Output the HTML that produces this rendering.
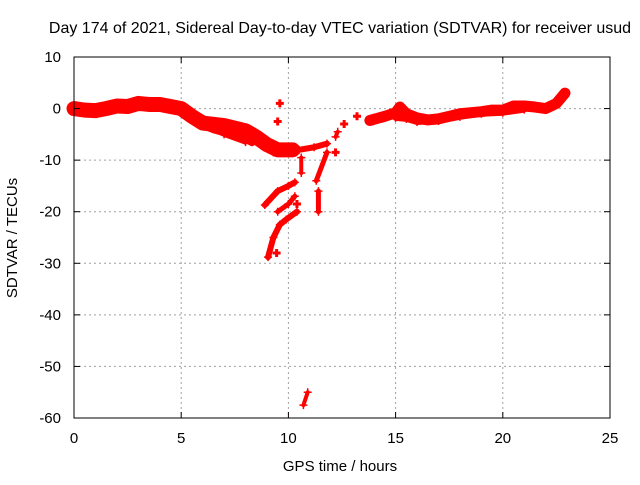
<!DOCTYPE html>
<html><head><meta charset="utf-8"><style>
body{margin:0;background:#fff;}
svg text{font-family:"Liberation Sans",sans-serif;font-size:15px;fill:#000;}
</style></head><body>
<svg width="640" height="480" id="chart">
<text x="340" y="33" text-anchor="middle" style="font-size:16px">Day 174 of 2021, Sidereal Day-to-day VTEC variation (SDTVAR) for receiver usud</text>
<text x="340" y="471" text-anchor="middle">GPS time / hours</text>
<text transform="translate(17,238) rotate(-90)" text-anchor="middle">SDTVAR / TECUs</text>
<g id="grid"></g><g id="marks"></g><g id="axes"></g>
</svg>
<script>
const xTicks=[0,5,10,15,20,25];
const yTicks=[10,0,-10,-20,-30,-40,-50,-60];
const segMainH=[0,0.5,1,1.5,2,2.5,3,3.5,4,4.5,5,5.5,6,7,8,8.5,9,9.5,10.2];
const segMainV=[0,-0.3,-0.4,0,0.5,0.4,1,0.8,0.8,0.4,0,-1.5,-2.8,-3.3,-4.3,-5.5,-7,-8,-8];
const segFanH=[5.5,6,6.5,7,7.5,8,8.3];
const segFanV=[-2,-3.2,-4,-4.6,-5.2,-5.8,-6.5];
const segLowH=[6,7,8];
const segLowV=[-3,-5,-6.5];
const segFallH=[8.5,9,9.3];
const segFallV=[-5,-7,-8.5];
const segRightH=[13.8,14.5,15,15.2,15.5,16,16.5,17,17.5,18,18.5,19,19.5,20,20.5,21,21.5,22,22.5,22.9];
const segRightV=[-2.3,-1.5,-0.8,0.3,-1,-1.8,-2.2,-2,-1.5,-1,-0.8,-0.6,-0.3,-0.3,0.5,0.5,0.3,0,1,3];
const segRight2H=[15,15.5,16,17,18,19,20,21];
const segRight2V=[-1.8,-2,-2.6,-2.4,-1.6,-1,-0.8,-0.2];
const segS1H=[8.9,9.5,10,10.3];
const segS1V=[-18.7,-16,-15,-14.3];
const segS2H=[9.5,10,10.3];
const segS2V=[-20,-18.5,-17];
const segS3H=[9.05,9.3,9.6,9.9,10.4];
const segS3V=[-28.8,-25,-22.5,-21.5,-20];
const segS4H=[10.7,10.9];
const segS4V=[-57.5,-55];
const segS5H=[10.5,11.2,11.8];
const segS5V=[-8,-7.5,-6.8];
const segS6H=[11.3,11.8];
const segS6V=[-14,-8.5];
const segS7H=[11.4,11.4];
const segS7V=[-16,-20];
const segS8H=[10.6,10.6];
const segS8V=[-9.5,-12.5];
const segS9H=[12.2,12.3];
const segS9V=[-5.5,-4.5];
const dotsH=[12.6,13.2,13.9,9.6,9.5,9.45,12.2,10.4];
const dotsV=[-3,-1.5,-2.5,1,-2.5,-28,-8.5,-18.5];
const segs=[[segMainH,segMainV,15],[segFanH,segFanV,8],[segLowH,segLowV,5],[segFallH,segFallV,5],[segRightH,segRightV,11],[segRight2H,segRight2V,6],
[segS1H,segS1V,6],[segS2H,segS2V,5],[segS3H,segS3V,6],[segS4H,segS4V,4],[segS5H,segS5V,6],
[segS6H,segS6V,5],[segS7H,segS7V,5],[segS8H,segS8V,4],[segS9H,segS9V,4]];
const L=74,R=610,T=57,B=418;
const sx=h=>L+(h-0)/25*(R-L);
const sy=v=>T+(10-v)/70*(B-T);
const NS='http://www.w3.org/2000/svg';
function mk(tag,attrs,parent){const e=document.createElementNS(NS,tag);for(const k in attrs)e.setAttribute(k,attrs[k]);parent.appendChild(e);return e;}
const grid=document.getElementById('grid'),marks=document.getElementById('marks'),axes=document.getElementById('axes');
xTicks.forEach(t=>{const x=sx(t);
 if(t>0&&t<25){const g=mk('line',{x1:x,x2:x,y1:T,y2:B,stroke:'#a0a0a0','stroke-dasharray':'2,3'},grid);
 
 }
 mk('line',{x1:x,x2:x,y1:B,y2:B-6,stroke:'#000'},axes);mk('line',{x1:x,x2:x,y1:T,y2:T+6,stroke:'#000'},axes);
 const tx=mk('text',{x:x,y:B+25,'text-anchor':'middle'},axes);tx.textContent=t;
 
 });
yTicks.forEach(t=>{const y=sy(t);
 if(t<10&&t>-60){const g=mk('line',{x1:L,x2:R,y1:y,y2:y,stroke:'#a0a0a0','stroke-dasharray':'2,3'},grid);
 
 }
 mk('line',{x1:L,x2:L+6,y1:y,y2:y,stroke:'#000'},axes);mk('line',{x1:R,x2:R-6,y1:y,y2:y,stroke:'#000'},axes);
 const tx=mk('text',{x:L-13,y:y+5,'text-anchor':'end'},axes);tx.textContent=t;
 
 });
const fr=mk('rect',{x:L,y:T,width:R-L,height:B-T,fill:'none',stroke:'#000'},axes);


segs.forEach(s=>{const pts=s[0].map((h,i)=>sx(h)+','+sy(s[1][i])).join(' ');
 const p=mk('polyline',{points:pts,fill:'none',stroke:'#f00','stroke-width':s[2],'stroke-linejoin':'round','stroke-linecap':'round'},marks);
 
 
 s[0].forEach((h,i)=>{const x=sx(h),y=sy(s[1][i]);const m=mk('path',{d:`M${x-4},${y}h8M${x},${y-4}v8`,stroke:'#f00','stroke-width':1.5},marks);
 
 });});
dotsH.forEach((h,i)=>{const x=sx(h),y=sy(dotsV[i]);const m=mk('path',{d:`M${x-4},${y}h8M${x},${y-4}v8`,stroke:'#f00','stroke-width':3},marks);
 
 });
</script>
</body></html>
